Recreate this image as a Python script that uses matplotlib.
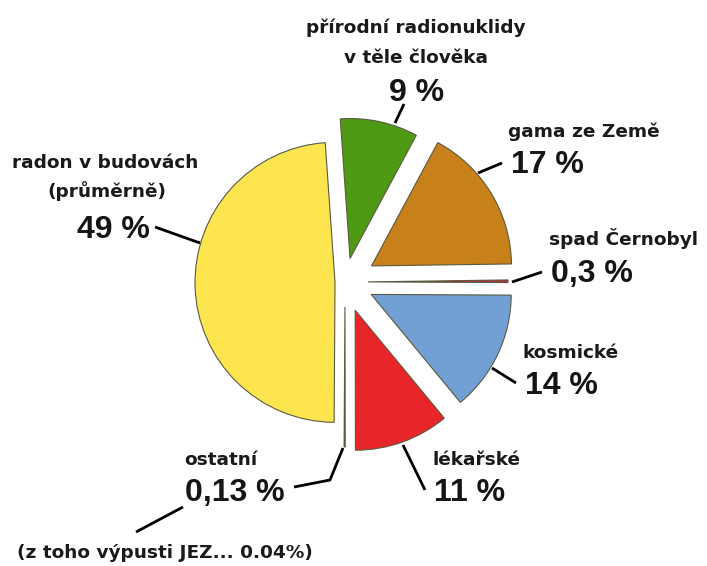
import matplotlib
matplotlib.use("Agg")
import matplotlib.pyplot as plt

W, H = 707, 566

categories = ["přírodní radionuklidy", "gama ze Země", "spad Černobyl",
              "kosmické", "lékařské", "ostatní", "radon v budovách"]
sublabels = ["v těle člověka", "(průměrně)"]
values = [9, 17, 0.3, 14, 11, 0.13, 49]
pct_labels = ["9 %", "17 %", "0,3 %", "14 %", "11 %", "0,13 %", "49 %"]
note = "(z toho výpusti JEZ... 0.04%)"
colors = ["#4E9A14", "#C7801A", "#B0303A", "#72A0D4", "#E8262A", "#777777", "#FCE54E"]
explode_px = [24, 31, 23, 29, 30, 25, 10]

plt.rcParams['font.family'] = ['Liberation Sans', 'DejaVu Sans']

fig = plt.figure(figsize=(W / 100, H / 100), dpi=100)
ax = fig.add_axes([0, 0, 1, 1])


def Y(y):
    return H - y


ax.pie(values, colors=colors, explode=explode_px, startangle=94, counterclock=False,
       center=(345, Y(282)), radius=140, frame=True,
       wedgeprops=dict(edgecolor="#5a5a40", linewidth=0.8))

ax.set_xlim(0, W)
ax.set_ylim(0, H)
ax.set_aspect('equal')
ax.set_axis_off()

small = 13.3
big = 23


def line(pts):
    ax.plot([p[0] for p in pts], [Y(p[1]) for p in pts], color="black", lw=2,
            solid_capstyle='butt')


# leader lines
line([(395, 123), (404, 104)])
line([(478, 173), (502, 163)])
line([(512, 282), (542, 272)])
line([(492, 368), (516, 383)])
line([(403, 445), (425, 490)])
line([(343, 448), (330, 480), (294, 487)])
line([(136, 532), (183, 507)])
line([(200, 243), (155, 227)])


def stxt(x, y, s, ha="left"):
    ax.text(x, Y(y), s, fontsize=small, fontweight="bold", ha=ha, va="baseline",
            color="#1a1a1a", family=['DejaVu Sans'])


def btxt(x, y, s, ha="left"):
    ax.text(x, Y(y), s, fontsize=big, fontweight="bold", ha=ha, va="baseline",
            color="#151515", family=['Liberation Sans', 'DejaVu Sans'])


# green
stxt(416, 33, categories[0], "center")
stxt(416, 63, sublabels[0], "center")
btxt(417, 101, pct_labels[0], "center")
# gama
stxt(508, 137, categories[1])
btxt(511, 173, pct_labels[1])
# spad
stxt(549, 245, categories[2])
btxt(551, 282, pct_labels[2])
# kosmicke
stxt(522, 358, categories[3])
btxt(525, 394, pct_labels[3])
# lekarske
stxt(432, 465, categories[4])
btxt(434, 501, pct_labels[4])
# ostatni
stxt(221, 465, categories[5], "center")
btxt(185, 501, pct_labels[5])
stxt(17, 558, note)
# radon
stxt(105, 168, categories[6], "center")
stxt(107, 197, sublabels[1], "center")
btxt(113, 238, pct_labels[6], "center")

fig.savefig("out.png", dpi=100)
